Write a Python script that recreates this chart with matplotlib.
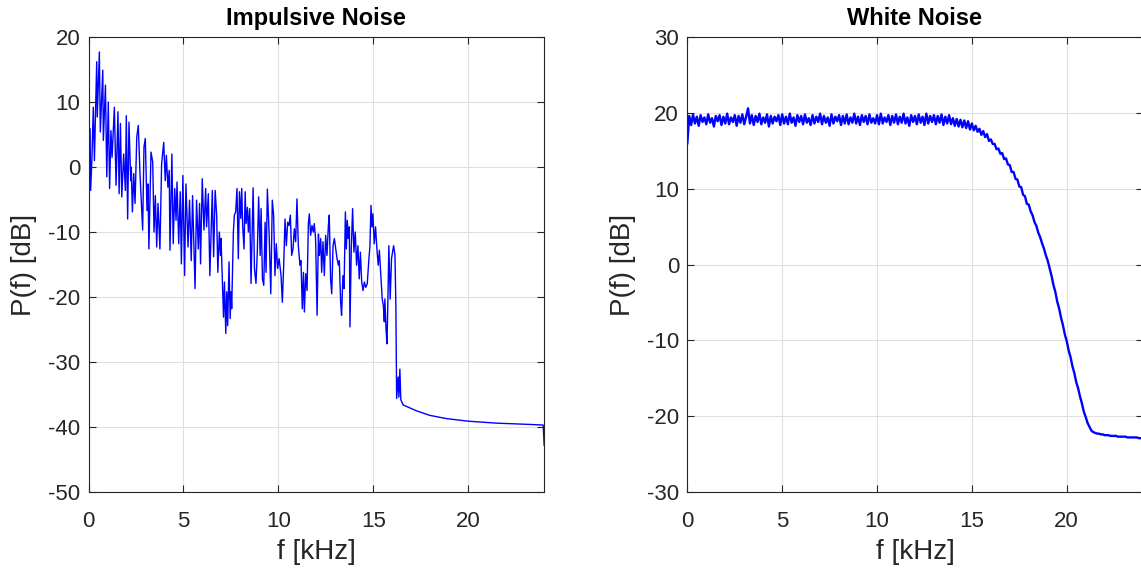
import numpy as np
import matplotlib
matplotlib.use('Agg')
import matplotlib.pyplot as plt

plt.rcParams['font.family'] = ['Liberation Sans', 'DejaVu Sans']
plt.rcParams['axes.unicode_minus'] = False

# impulsive noise spectrum (kHz, dB)
imp_f = [0.0, 0.08, 0.11, 0.18, 0.25, 0.31, 0.43, 0.46, 0.57, 0.62, 0.75, 0.78, 0.89, 0.96,
         1.04, 1.11, 1.18, 1.24, 1.36, 1.45, 1.55, 1.61, 1.68, 1.75, 1.85, 1.94, 1.99, 2.06,
         2.13, 2.22, 2.25, 2.31, 2.38, 2.45, 2.54, 2.62, 2.71, 2.85, 2.92, 2.99, 3.08, 3.13,
         3.18, 3.29, 3.38, 3.45, 3.52, 3.59, 3.66, 3.76, 3.85, 3.96, 4.04, 4.10, 4.18, 4.25,
         4.29, 4.39, 4.46, 4.54, 4.61, 4.66, 4.75, 4.83, 4.89, 4.97, 5.06, 5.13, 5.24, 5.32,
         5.41, 5.48, 5.61, 5.69, 5.78, 5.85, 5.90, 5.99, 6.08, 6.17, 6.22, 6.31, 6.39, 6.52,
         6.59, 6.67, 6.75, 6.81, 6.89, 6.95, 6.98, 7.05, 7.11, 7.16, 7.23, 7.28, 7.33, 7.40,
         7.46, 7.51, 7.54, 7.63, 7.68, 7.75, 7.82, 7.89, 7.95, 8.02, 8.07, 8.12, 8.19, 8.25,
         8.30, 8.37, 8.42, 8.49, 8.56, 8.67, 8.74, 8.82, 8.89, 8.96, 9.04, 9.09, 9.16, 9.23,
         9.30, 9.35, 9.42, 9.51, 9.60, 9.68, 9.75, 9.82, 9.89, 9.96, 10.04, 10.14, 10.21, 10.28,
         10.35, 10.42, 10.49, 10.56, 10.63, 10.70, 10.77, 10.84, 10.91, 10.98, 11.05, 11.14,
         11.19, 11.26, 11.32, 11.37, 11.44, 11.51, 11.58, 11.63, 11.70, 11.77, 11.84, 11.89,
         11.96, 12.04, 12.11, 12.16, 12.23, 12.28, 12.35, 12.42, 12.49, 12.56, 12.63, 12.68,
         12.75, 12.81, 12.88, 12.95, 13.02, 13.09, 13.16, 13.21, 13.28, 13.33, 13.40, 13.46,
         13.53, 13.58, 13.63, 13.68, 13.74, 13.77, 13.84, 13.91, 13.98, 14.05, 14.12, 14.19,
         14.26, 14.32, 14.39, 14.46, 14.53, 14.60, 14.68, 14.77, 14.82, 14.88, 14.93, 14.98,
         15.05, 15.12, 15.19, 15.26, 15.32, 15.39, 15.47, 15.53, 15.58, 15.61, 15.67, 15.72,
         15.77, 15.82, 15.89, 15.96, 16.07, 16.14, 16.19, 16.23, 16.31, 16.35, 16.40, 16.45,
         16.57, 17.27, 17.97, 18.85, 19.99, 21.48, 23.24, 23.95, 24.0]
imp_db = [-4.6, 5.9, -3.6, 1.5, 9.2, 1.0, 16.2, 7.7, 17.7, 5.4, 14.9, 4.1, 12.6, -1.5,
          10.0, -3.3, 5.6, 1.5, 9.2, -2.8, 8.5, -4.1, 6.7, -4.6, 2.0, -3.6, 7.9, -8.0,
          6.9, -2.1, 0.0, -6.9, -1.0, -5.6, 4.6, 6.4, -1.0, -9.7, 3.1, 4.4, -6.7, -2.6,
          -12.6, 2.3, 0.8, -10.0, -4.4, -12.3, -5.6, -12.6, 0.5, 3.8, -2.1, 1.8, -3.1, -0.5,
          -12.8, 2.0, -11.8, -3.3, -8.2, -2.3, -11.8, -3.8, -14.9, -1.3, -16.7, -2.6, -12.3, -5.1,
          -14.4, -4.4, -18.7, -5.1, -12.6, -5.6, -14.9, -1.8, -9.7, -3.3, -9.2, -4.1, -16.7, -3.6,
          -13.8, -3.6, -7.4, -16.2, -10.0, -13.6, -11.0, -17.7, -23.1, -17.7, -25.6, -19.2, -24.4, -14.6,
          -23.3, -19.2, -21.8, -10.0, -7.4, -6.9, -3.3, -14.1, -3.8, -7.9, -3.3, -9.0, -12.6, -3.8,
          -8.7, -6.2, -10.0, -6.4, -17.9, -3.2, -15.6, -17.9, -13.1, -4.6, -13.6, -6.4, -17.2, -18.2,
          -8.5, -16.2, -3.4, -10.0, -19.5, -5.1, -7.4, -16.7, -11.8, -15.6, -14.1, -16.7, -20.8, -15.1,
          -8.0, -12.1, -8.5, -9.0, -7.4, -13.6, -12.6, -9.5, -11.5, -4.9, -12.1, -15.1,
          -14.4, -21.8, -16.2, -22.3, -16.4, -19.0, -8.7, -7.2, -10.5, -9.0, -10.0, -8.7,
          -11.0, -22.8, -10.3, -13.6, -11.0, -16.2, -11.5, -16.7, -10.5, -13.6, -9.2, -7.4,
          -17.2, -19.5, -12.1, -11.0, -12.6, -14.1, -15.1, -14.4, -20.8, -22.8, -16.7, -18.7,
          -6.9, -12.6, -8.2, -11.0, -9.2, -24.6, -12.6, -6.4, -13.1, -10.0, -15.1, -12.1,
          -17.2, -13.1, -17.7, -19.0, -17.7, -18.5, -18.0, -14.1, -12.3, -5.9, -9.2, -7.2,
          -11.8, -9.2, -12.6, -15.1, -12.8, -16.4, -20.3, -21.3, -23.8, -20.3, -24.9, -27.2,
          -20.5, -12.1, -20.3, -14.1, -12.1, -13.5, -21.3, -35.6, -32.3, -35.4, -31.1, -35.8,
          -36.6, -37.5, -38.2, -38.7, -39.1, -39.4, -39.6, -39.7, -42.8]

# white noise spectrum, one value every 0.1 kHz from 0 to 24 kHz
white_f = np.arange(0, 241) / 10.0
white_db = [
    16.0, 19.6, 18.4, 19.8, 18.6, 19.5, 18.3, 19.7, 18.8, 19.4,
    18.5, 19.8, 18.7, 19.3, 18.2, 19.6, 18.9, 19.7, 18.4, 19.5,
    18.6, 19.9, 18.5, 19.4, 18.8, 19.7, 18.3, 19.6, 18.7, 19.8,
    18.5, 19.5, 20.6, 18.6, 19.7, 18.4, 19.6, 18.8, 19.9, 18.5,
    19.4, 18.7, 19.8, 18.2, 19.6, 18.6, 19.5, 18.9, 19.7, 18.4,
    19.8, 18.6, 19.5, 18.5, 19.9, 18.7, 19.4, 18.3, 19.7, 18.8,
    19.6, 18.5, 19.8, 18.7, 19.3, 18.4, 19.7, 18.6, 19.5, 18.8,
    19.9, 18.5, 19.6, 18.7, 19.4, 18.3, 19.8, 18.6, 19.5, 18.9,
    19.7, 18.4, 19.6, 18.6, 19.8, 18.5, 19.4, 18.7, 19.9, 18.6,
    19.5, 18.4, 19.7, 18.8, 19.6, 18.5, 19.8, 18.7, 19.3, 18.6,
    19.7, 18.5, 19.9, 18.6, 19.4, 18.8, 19.7, 18.4, 19.6, 18.7,
    19.8, 18.5, 19.5, 18.7, 19.9, 18.6, 19.4, 18.3, 19.7, 18.8,
    19.6, 18.5, 19.8, 18.7, 19.5, 18.4, 19.9, 18.6, 19.6, 18.8,
    19.7, 18.5, 19.6, 18.7, 19.8, 18.4, 19.5, 18.6, 19.7, 18.5,
    19.3, 18.3, 19.2, 18.2, 19.1, 18.1, 19.0, 18.0, 18.9, 17.8,
    18.6, 17.7, 18.3, 17.5, 17.9, 17.1, 17.6, 16.8, 17.2, 16.3,
    16.5, 15.9, 15.9, 15.2, 15.3, 14.6, 14.7, 13.9, 14.0, 13.2,
    13.1, 12.2, 12.2, 11.3, 11.2, 10.3, 10.2, 9.2, 9.0, 8.0,
    7.9, 7.0, 6.5, 5.6, 5.1, 4.2, 3.6, 2.8, 2.1, 1.2,
    0.5, -0.5, -1.5, -2.7, -3.6, -4.9, -5.8, -7.0, -8.0, -9.2,
    -10.1, -11.3, -12.2, -13.4, -14.3, -15.5, -16.3, -17.4, -18.3, -19.4,
    -20.1, -20.9, -21.4, -21.9, -22.1, -22.2, -22.3, -22.3, -22.4, -22.4,
    -22.5, -22.5, -22.5, -22.6, -22.6, -22.6, -22.6, -22.7, -22.7, -22.7,
    -22.7, -22.7, -22.8, -22.8, -22.8, -22.8, -22.8, -22.8, -22.9, -22.9,
    -22.9]

titles = ['Impulsive Noise', 'White Noise']
ylims = [(-50, 20), (-30, 30)]

fig = plt.figure(figsize=(11.41, 5.70), dpi=100)
ax1 = fig.add_axes([0.0776, 0.1368, 0.3993, 0.7982])
ax2 = fig.add_axes([0.6024, 0.1368, 0.3990, 0.7982])

ax1.plot(imp_f, imp_db, color='#0000ff', linewidth=1.0)
ax2.plot(white_f, white_db, color='#0000ff', linewidth=1.7)

for ax, title, yl in zip([ax1, ax2], titles, ylims):
    ax.set_xlim(0, 24)
    ax.set_ylim(*yl)
    ax.set_xticks([0, 5, 10, 15, 20])
    ax.set_yticks(np.arange(yl[0], yl[1] + 1, 10))
    ax.grid(True, color='#e0e0e0', linewidth=0.8)
    ax.set_axisbelow(True)
    ax.tick_params(direction='in', length=5, width=0.8, top=True, right=True,
                   labelsize=16, colors='#262626')
    ax.tick_params(axis='x', pad=14)
    ax.tick_params(axis='y', pad=6)
    for s in ax.spines.values():
        s.set_color('#262626')
        s.set_linewidth(0.8)
    ax.set_xlabel('f [kHz]', fontsize=20, color='#262626', labelpad=5)
    ax.set_ylabel('P(f) [dB]', fontsize=20, color='#262626', labelpad=8)
    ax.set_title(title, fontsize=17, fontweight='bold', pad=9)

fig.savefig('out.png', dpi=100)
